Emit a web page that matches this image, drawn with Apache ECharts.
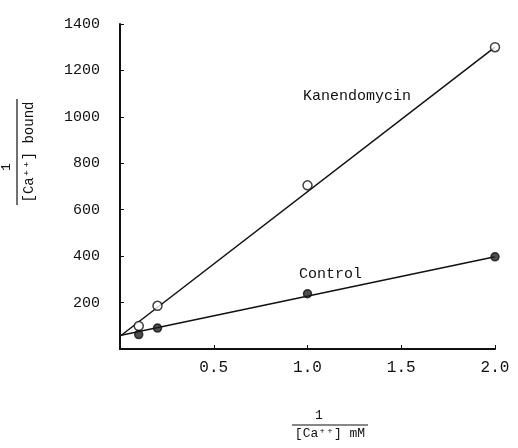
<!DOCTYPE html>
<html>
<head>
<meta charset="utf-8">
<script src="https://cdn.jsdelivr.net/npm/echarts@6/dist/echarts.min.js"></script>
<style>html,body{margin:0;padding:0;background:#fff}#c{width:518px;height:448px}</style>
</head>
<body>
<div id="c"></div>
<script>
// Data
var xTicks = [0.5, 1.0, 1.5, 2.0];
var yTicks = [200, 400, 600, 800, 1000, 1200, 1400];
var kanPoints = [[0.1, 99], [0.2, 186], [1.0, 705], [2.0, 1300]];
var ctrlPoints = [[0.1, 62], [0.2, 90], [1.0, 238], [2.0, 397]];
var kanLine = [[0, 55], [2.0, 1300]];
var ctrlLine = [[0, 58], [2.0, 397]];
var kanLabel = 'Kanendomycin';
var ctrlLabel = 'Control';

var FONT = '"Liberation Mono", "DejaVu Sans Mono", monospace';
var chart = echarts.init(document.getElementById('c'));
chart.setOption({
  backgroundColor: '#fff',
  animation: false,
  grid: {left: 120, right: 23, top: 24, bottom: 99},
  xAxis: {
    type: 'value', min: 0, max: 2.0, interval: 0.5,
    axisLine: {lineStyle: {color: '#111', width: 2}},
    axisTick: {inside: true, length: 4, lineStyle: {color: '#111'}},
    splitLine: {show: false},
    axisLabel: {
      margin: 11, color: '#111', fontFamily: FONT, fontSize: 16,
      formatter: function (v) { return v === 0 ? '' : v.toFixed(1); }
    }
  },
  yAxis: {
    type: 'value', min: 0, max: 1400, interval: 200,
    axisLine: {lineStyle: {color: '#111', width: 2}},
    axisTick: {inside: true, length: 4, lineStyle: {color: '#111'}},
    splitLine: {show: false},
    axisLabel: {
      margin: 20, color: '#111', fontFamily: FONT, fontSize: 15,
      formatter: function (v) { return v === 0 ? '' : String(v); }
    }
  },
  series: [
    {type: 'line', data: kanLine, symbol: 'none', lineStyle: {color: '#111', width: 1.5}, z: 2},
    {type: 'line', data: ctrlLine, symbol: 'none', lineStyle: {color: '#111', width: 1.5}, z: 2},
    {type: 'scatter', data: kanPoints, symbol: 'circle', symbolSize: 9,
     itemStyle: {color: '#fff', borderColor: '#111', borderWidth: 1.5}, z: 3},
    {type: 'scatter', data: ctrlPoints, symbol: 'circle', symbolSize: 8,
     itemStyle: {color: '#222', borderColor: '#111', borderWidth: 1.5}, z: 3}
  ],
  graphic: [
    {type: 'text', left: 303, top: 89, style: {text: kanLabel, font: '15px ' + FONT, fill: '#111'}},
    {type: 'text', left: 299, top: 267, style: {text: ctrlLabel, font: '15px ' + FONT, fill: '#111'}},
    // x axis title
    {type: 'text', x: 319, y: 416, style: {text: '1', font: '13px ' + FONT, fill: '#111', align: 'center', verticalAlign: 'middle'}},
    {type: 'line', shape: {x1: 292, y1: 425, x2: 368, y2: 425}, style: {stroke: '#111', lineWidth: 1.2}},
    {type: 'text', x: 330, y: 434, style: {text: '[Ca\u207A\u207A] mM', font: '13px ' + FONT, fill: '#111', align: 'center', verticalAlign: 'middle'}},
    // y axis title (rotated)
    {type: 'group', x: 17, y: 152, rotation: Math.PI / 2, children: [
      {type: 'text', x: -15, y: -10, style: {text: '1', font: '13px ' + FONT, fill: '#111', align: 'center', verticalAlign: 'middle'}},
      {type: 'line', shape: {x1: -53, y1: 0, x2: 53, y2: 0}, style: {stroke: '#111', lineWidth: 1.2}},
      {type: 'text', x: 0, y: 12, style: {text: '[Ca\u207A\u207A] bound', font: '14px ' + FONT, fill: '#111', align: 'center', verticalAlign: 'middle'}}
    ]}
  ]
});
</script>
</body>
</html>
